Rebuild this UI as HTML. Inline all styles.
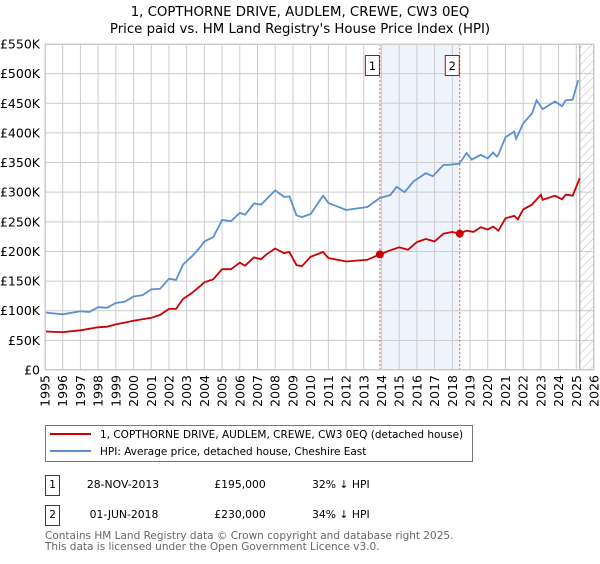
<!DOCTYPE html>
<html><head><meta charset="utf-8"><style>
body{margin:0;background:#fff;font-family:"DejaVu Sans","Liberation Sans",sans-serif;}
svg text{font-family:"DejaVu Sans","Liberation Sans",sans-serif;}
</style></head><body>
<svg id="chart" width="600" height="560" xmlns="http://www.w3.org/2000/svg">
<defs><pattern id="hatch" width="6" height="6" patternUnits="userSpaceOnUse" patternTransform="rotate(45)"><line x1="0" y1="0" x2="0" y2="6" stroke="#bbb" stroke-width="1"/></pattern></defs>
<text x="300" y="16" text-anchor="middle" font-size="13.3">1, COPTHORNE DRIVE, AUDLEM, CREWE, CW3 0EQ</text>
<text x="300" y="33" text-anchor="middle" font-size="13.3">Price paid vs. HM Land Registry's House Price Index (HPI)</text>
<g id="grid"></g><g id="marks"></g><g id="axes"></g>
<rect x="45.5" y="425.5" width="427" height="36" fill="#fff" stroke="#777"/>
<line x1="50" y1="434" x2="91" y2="434" stroke="#cc0000" stroke-width="2"/>
<text x="100" y="438" font-size="10.5">1, COPTHORNE DRIVE, AUDLEM, CREWE, CW3 0EQ (detached house)</text>
<line x1="50" y1="451" x2="91" y2="451" stroke="#5b8fd4" stroke-width="2"/>
<text x="100" y="455" font-size="10.5">HPI: Average price, detached house, Cheshire East</text>
<g font-size="10.8">
<rect x="45.5" y="475.5" width="14" height="20" fill="#fff" stroke="#cc0000"/>
<text x="52.5" y="488" text-anchor="middle">1</text>
<text x="123" y="488" text-anchor="middle">28-NOV-2013</text>
<text x="240" y="488" text-anchor="middle">£195,000</text>
<text x="312" y="488">32% ↓ HPI</text></g>
<g font-size="10.8">
<rect x="45.5" y="505.5" width="14" height="20" fill="#fff" stroke="#cc0000"/>
<text x="52.5" y="518" text-anchor="middle">2</text>
<text x="124" y="518" text-anchor="middle">01-JUN-2018</text>
<text x="240" y="518" text-anchor="middle">£230,000</text>
<text x="312" y="518">34% ↓ HPI</text></g>
<text x="45" y="539" font-size="10.5" fill="#666">Contains HM Land Registry data © Crown copyright and database right 2025.</text>
<text x="45" y="550" font-size="10.5" fill="#666">This data is licensed under the Open Government Licence v3.0.</text>
</svg>
<script>
const hpiYears=[1995,1996,1997,1997.5,1998,1998.5,1999,1999.5,2000,2000.5,2001,2001.5,2002,2002.4,2002.8,2003.3,2003.7,2004,2004.5,2005,2005.5,2006,2006.3,2006.8,2007.2,2007.5,2008,2008.5,2008.8,2009.2,2009.5,2010,2010.7,2011,2012,2013.2,2013.9,2014.5,2014.86,2015.3,2015.8,2016.5,2016.9,2017.5,2017.8,2018.4,2018.8,2019.1,2019.6,2020,2020.3,2020.5,2020.6,2021,2021.5,2021.6,2022,2022.5,2022.76,2023.1,2023.8,2024.2,2024.4,2024.8,2025.1];
const hpiValues=[97,94,99,98,106,105,113,115,124,126,136,137,154,152,178,192,205,217,224,253,251,265,262,281,279,288,303,292,293,261,258,263,294,282,270,275,290,295,309,300,318,332,327,346,346,348,366,355,363,357,367,360,363,393,402,390,416,433,455,440,453,445,455,456,489];
const priceYears=[1995,1996,1997,1998,1998.5,1999,2000,2001,2001.5,2002,2002.4,2002.8,2003.3,2003.7,2004,2004.5,2005,2005.5,2006,2006.3,2006.8,2007.2,2007.5,2008,2008.5,2008.8,2009.2,2009.5,2010,2010.7,2011,2012,2013.2,2013.9,2014.5,2015,2015.5,2016,2016.5,2017,2017.5,2018,2018.4,2018.8,2019.2,2019.6,2020,2020.3,2020.6,2021,2021.5,2021.7,2022,2022.5,2023,2023.1,2023.8,2024.2,2024.4,2024.8,2025.2];
const priceValues=[65,64,67,72,73,77,83,88,93,103,103,120,130,140,148,153,170,170,181,176,190,187,195,205,197,199,177,175,191,199,189,183,186,195,202,207,203,216,221,217,230,233,230,235,233,241,237,242,235,256,260,254,271,279,296,287,294,288,296,294,324];
const saleYears=[2013.91,2018.42];
const saleValues=[195,230];
const saleLabels=["1","2"];
const yTicks=[0,50,100,150,200,250,300,350,400,450,500,550];
const xTicks=[1995,1996,1997,1998,1999,2000,2001,2002,2003,2004,2005,2006,2007,2008,2009,2010,2011,2012,2013,2014,2015,2016,2017,2018,2019,2020,2021,2022,2023,2024,2025,2026];
const dataEnd=2025.2;
const X0=45,X1=594,Y0=370,Y1=44;
const xs=v=>X0+(v-1995)/(2026-1995)*(X1-X0);
const ys=v=>Y0-v/550*(Y0-Y1);
const NS="http://www.w3.org/2000/svg";
function mk(tag,attrs,parent){const e=document.createElementNS(NS,tag);for(const k in attrs)e.setAttribute(k,attrs[k]);parent.appendChild(e);return e;}
const grid=document.getElementById('grid'),marks=document.getElementById('marks'),axes=document.getElementById('axes');
let e=mk('rect',{x:xs(saleYears[0]),y:Y1,width:xs(saleYears[1])-xs(saleYears[0]),height:Y0-Y1,fill:'#eef3fc'},grid);


e=mk('rect',{x:xs(dataEnd),y:Y1,width:X1-xs(dataEnd),height:Y0-Y1,fill:'url(#hatch)'},grid);


yTicks.forEach(t=>{
 const l=mk('line',{x1:X0,x2:X1,y1:ys(t),y2:ys(t),stroke:'#ccc'},grid);
 
 
 const tx=mk('text',{x:X0-5,y:ys(t)+4.5,'text-anchor':'end','font-size':'12.5'},axes);
 tx.textContent=t===0?'£0':'£'+t+'K';
 
 
});
xTicks.forEach(t=>{
 const l=mk('line',{x1:xs(t),x2:xs(t),y1:Y1,y2:Y0,stroke:'#ccc'},grid);
 
 
 const tx=mk('text',{transform:`translate(${xs(t)+4.5},${Y0+5}) rotate(-90)`,'text-anchor':'end','font-size':'12.5'},axes);
 tx.textContent=t;
 
 
});
e=mk('line',{x1:xs(dataEnd),x2:xs(dataEnd),y1:Y1,y2:Y0,stroke:'#999'},grid);


saleYears.forEach((s,i)=>{
 const l=mk('line',{x1:xs(s),x2:xs(s),y1:Y1,y2:Y0,stroke:'#e06666','stroke-dasharray':'2,2'},marks);
 
 
 const r=mk('rect',{x:xs(s)-14.5,y:55.5,width:14,height:20,fill:'#fff',stroke:'#cc0000'},marks);
 
 
 const tx=mk('text',{x:xs(s)-7.5,y:70,'text-anchor':'middle','font-size':'11.5'},marks);
 tx.textContent=saleLabels[i];
 
 
});
e=mk('path',{d:hpiYears.map((y,i)=>(i?'L':'M')+xs(y).toFixed(1)+','+ys(hpiValues[i]).toFixed(1)).join(''),fill:'none',stroke:'#5b8fd4','stroke-width':1.8},marks);


e=mk('path',{d:priceYears.map((y,i)=>(i?'L':'M')+xs(y).toFixed(1)+','+ys(priceValues[i]).toFixed(1)).join(''),fill:'none',stroke:'#cc0000','stroke-width':1.8},marks);


saleYears.forEach((s,i)=>{
 const c=mk('circle',{cx:xs(s),cy:ys(saleValues[i]),r:4,fill:'#cc0000'},marks);
 
 
});
e=mk('rect',{x:X0+0.5,y:Y1+0.5,width:X1-X0-1,height:Y0-Y1-1,fill:'none',stroke:'#ccc'},axes);


</script>
</body></html>
